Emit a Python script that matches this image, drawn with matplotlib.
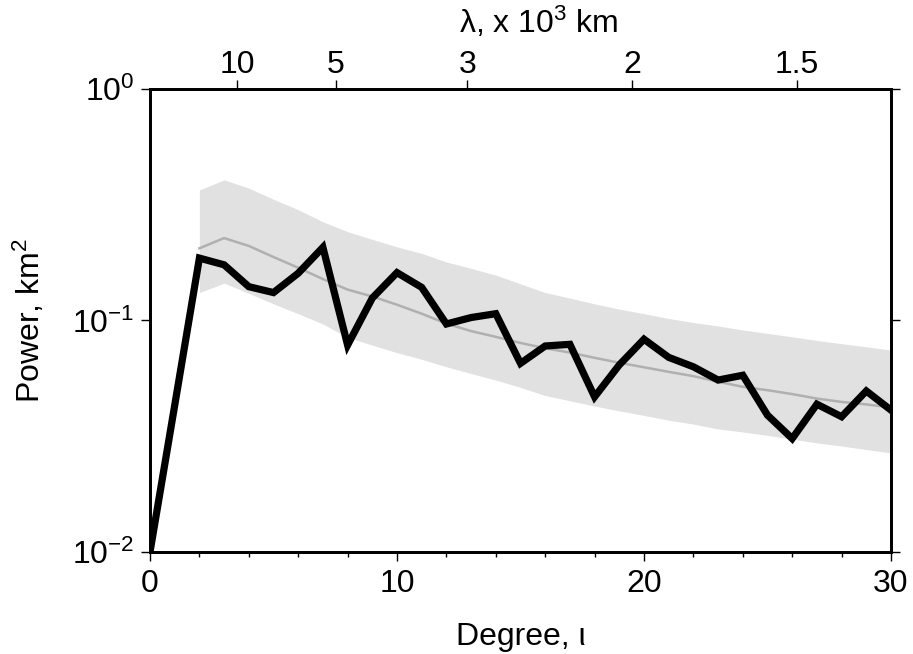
import numpy as np
import matplotlib
matplotlib.use("Agg")
import matplotlib.pyplot as plt
from matplotlib.ticker import NullLocator, MultipleLocator

plt.rcParams['font.family'] = ['Liberation Sans', 'DejaVu Sans']
plt.rcParams['mathtext.fontset'] = 'custom'
plt.rcParams['mathtext.rm'] = 'Liberation Sans'
plt.rcParams['mathtext.it'] = 'Liberation Sans:italic'
plt.rcParams['mathtext.default'] = 'regular'

# observed spectrum, degree 0..30
degree = np.arange(0, 31)
power = [0.010, 0.043, 0.186, 0.174, 0.140, 0.132, 0.160, 0.207, 0.0783, 0.125,
         0.161, 0.139, 0.0966, 0.103, 0.107, 0.0653, 0.0776, 0.0789, 0.0468, 0.0643,
         0.083, 0.0693, 0.0631, 0.0553, 0.058, 0.039, 0.0309, 0.0435, 0.0384, 0.0496,
         0.041]

# reference model (mean and spread), degree 2..30
model_deg = np.arange(2, 31)
model_mean = [0.205, 0.227, 0.210, 0.188, 0.169, 0.151, 0.136, 0.127, 0.117, 0.107,
              0.097, 0.090, 0.085, 0.080, 0.0759, 0.0727, 0.069, 0.0657, 0.0628, 0.060,
              0.0575, 0.0544, 0.0517, 0.050, 0.0481, 0.046, 0.0445, 0.0434, 0.0421]
model_hi = [0.366, 0.405, 0.373, 0.334, 0.301, 0.267, 0.242, 0.224, 0.208, 0.195,
            0.179, 0.168, 0.157, 0.144, 0.132, 0.125, 0.118, 0.112, 0.107, 0.102,
            0.098, 0.0947, 0.091, 0.088, 0.085, 0.082, 0.0794, 0.077, 0.0745]
model_lo = [0.132, 0.145, 0.131, 0.118, 0.107, 0.0966, 0.0845, 0.0783, 0.0726, 0.068,
            0.0631, 0.059, 0.0553, 0.0514, 0.0474, 0.045, 0.0427, 0.0407, 0.0389, 0.0371,
            0.0357, 0.034, 0.033, 0.0319, 0.0307, 0.0296, 0.0287, 0.0277, 0.0268]

# wavelength ticks on top axis (thousand km)
lam_ticks = [10, 5, 3, 2, 1.5]
lam_labels = ["10", "5", "3", "2", "1.5"]
R = 6371.0

fs = 23

fig = plt.figure(figsize=(9.13, 6.54), dpi=100)
ax = fig.add_axes([150/913, 102/654, 741/913, 463/654])

ax.fill_between(model_deg, model_lo, model_hi, color='#e1e1e1', lw=0)
ax.plot(model_deg, model_mean, color='#b0b0b0', lw=1.8)
ax.plot(degree, power, color='black', lw=5.2, solid_joinstyle='miter')

ax.set_yscale('log')
ax.set_ylim(1e-2, 1e0)
ax.set_xlim(0, 30)
ax.yaxis.set_minor_locator(NullLocator())
ax.xaxis.set_major_locator(MultipleLocator(10))
ax.xaxis.set_minor_locator(MultipleLocator(2))

for s in ax.spines.values():
    s.set_linewidth(2)

ax.tick_params(which='major', direction='out', length=6.5, width=1, labelsize=fs,
               top=False, right=True, labelright=False)
ax.tick_params(axis='x', which='major', pad=6)
ax.tick_params(axis='y', which='major', pad=5)
ax.tick_params(which='minor', direction='out', length=3.5, width=1, top=False)

ax.set_xlabel("Degree, ι", fontsize=fs, labelpad=16)
ax.set_ylabel("Power, km$^2$", fontsize=fs, labelpad=18)

# top axis: wavelength
k = 2 * np.pi * R / (np.array(lam_ticks) * 1000.0)
lam_deg = (-1 + np.sqrt(1 + 4 * k**2)) / 2
ax2 = ax.twiny()
ax2.set_xlim(ax.get_xlim())
ax2.set_xticks(lam_deg)
ax2.set_xticklabels(lam_labels)
ax2.xaxis.set_minor_locator(NullLocator())
ax2.tick_params(direction='out', length=6.5, width=1, labelsize=fs, pad=0)
ax2.set_xlabel("λ, x 10$^3$ km", fontsize=fs, labelpad=12)
ax2.xaxis.label.set_x(0.525)
for s in ax2.spines.values():
    s.set_linewidth(2)

fig.savefig("out.png", dpi=100)
